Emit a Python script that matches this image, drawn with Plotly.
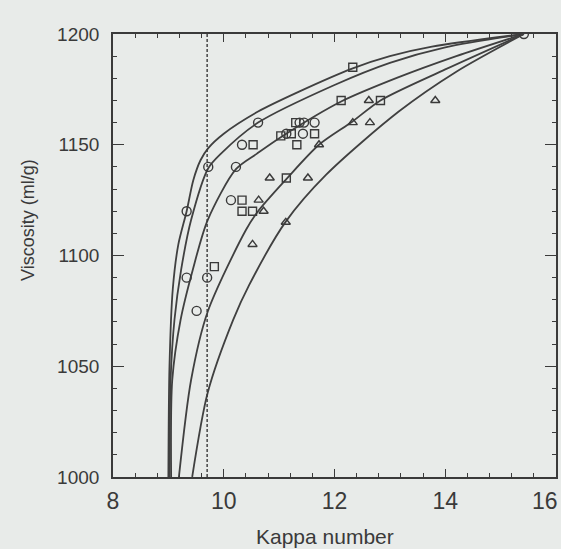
import plotly.graph_objects as go

# ---- data ----
# Model curves (kappa, viscosity), five curves converging at (15.42, 1200)
curve_a_k = [9.00, 9.02, 9.08, 9.18, 9.33, 9.45, 9.58, 9.72, 10.00, 10.62, 11.36, 12.33, 13.00, 13.76, 15.42]
curve_a_v = [1000, 1050, 1085, 1105, 1120, 1134, 1143, 1148.5, 1155, 1165, 1174, 1184.5, 1190, 1194.3, 1200]

curve_b_k = [9.02, 9.04, 9.11, 9.23, 9.41, 9.72, 9.95, 10.62, 12.00, 13.00, 14.00, 15.42]
curve_b_v = [1000, 1044, 1071, 1093.5, 1116, 1139.4, 1146, 1160, 1177, 1187, 1194, 1200]

curve_c_k = [9.05, 9.07, 9.22, 9.44, 9.71, 10.22, 10.60, 11.03, 12.12, 13.16, 14.20, 15.42]
curve_c_v = [1000, 1043.8, 1070.9, 1093.5, 1116, 1139, 1146, 1153.4, 1169.5, 1180.5, 1190, 1200]

curve_d_k = [9.19, 9.41, 9.71, 10.40, 10.62, 11.13, 11.72, 12.32, 12.83, 14.00, 15.42]
curve_d_v = [1000, 1043.8, 1074.6, 1111.5, 1120, 1134.5, 1150, 1160.4, 1170, 1184, 1200]

curve_e_k = [9.43, 9.71, 10.17, 10.46, 11.12, 11.85, 13.16, 14.20, 15.42]
curve_e_v = [1000, 1038, 1070.9, 1086.7, 1115.3, 1136.5, 1165, 1183, 1200]

# Measured points
circle_k = [9.33, 9.72, 10.22, 10.13, 9.33, 9.70, 9.51, 10.33, 10.62, 11.13, 11.43, 11.37, 11.45, 11.64, 15.42]
circle_v = [1120, 1140, 1140, 1125, 1090, 1090, 1075, 1150, 1160, 1155, 1155, 1160, 1160, 1160, 1200]

square_k = [12.33, 12.12, 12.83, 11.03, 11.22, 11.64, 11.30, 11.32, 10.53, 10.33, 10.33, 10.52, 11.13, 9.83]
square_v = [1185, 1170, 1170, 1154, 1155, 1155, 1160, 1150, 1150, 1125, 1120, 1120, 1135, 1095]

triangle_k = [12.62, 13.82, 12.33, 12.64, 11.72, 10.83, 11.52, 10.63, 10.72, 11.12, 10.52]
triangle_v = [1170, 1170, 1160, 1160, 1150, 1135, 1135, 1125, 1120, 1115, 1105]

dashed_k = [9.7, 9.7]
dashed_v = [1000, 1200]

x_ticks = [8, 10, 12, 14, 16]
x_tick_text = ["8", "10", "12", "14", ""]   # "16" is placed as an annotation so it stays inside the page
x_last_label = "16"
y_ticks = [1000, 1050, 1100, 1150, 1200]

# ---- styling ----
BG = "#e8ebe9"
INK = "#3a3a3a"
LINE = "#404040"

fig = go.Figure()

for ks, vs in [(curve_a_k, curve_a_v), (curve_b_k, curve_b_v), (curve_c_k, curve_c_v),
               (curve_d_k, curve_d_v), (curve_e_k, curve_e_v)]:
    fig.add_trace(go.Scatter(x=ks, y=vs, mode="lines",
                             line=dict(color=LINE, width=1.8, shape="spline", smoothing=0.8),
                             hoverinfo="skip", showlegend=False))

fig.add_trace(go.Scatter(x=dashed_k, y=dashed_v, mode="lines",
                         line=dict(color=INK, width=1.4, dash="3px,2px"),
                         showlegend=False))

fig.add_trace(go.Scatter(x=circle_k, y=circle_v, mode="markers",
                         marker=dict(symbol="circle-open", size=9, color=INK, line=dict(width=1.4, color=INK)),
                         showlegend=False))
fig.add_trace(go.Scatter(x=square_k, y=square_v, mode="markers",
                         marker=dict(symbol="square-open", size=8, color=INK, line=dict(width=1.4, color=INK)),
                         showlegend=False))
fig.add_trace(go.Scatter(x=triangle_k, y=triangle_v, mode="markers",
                         marker=dict(symbol="triangle-up-open", size=8, color=INK, line=dict(width=1.4, color=INK)),
                         showlegend=False))

fig.update_layout(
    width=561, height=549,
    margin=dict(l=113, r=5, t=34, b=72),
    paper_bgcolor=BG, plot_bgcolor=BG,
    font=dict(family="Liberation Sans, Arial, sans-serif", color=INK),
    showlegend=False,
    xaxis=dict(
        range=[8, 16], tickvals=x_ticks, ticktext=x_tick_text,
        ticks="inside", ticklen=8, tickwidth=1.4, tickcolor=INK,
        showline=True, linecolor=INK, linewidth=1.6, mirror="ticks",
        showgrid=False, zeroline=False, automargin=False,
        tickfont=dict(size=23, color=INK), ticklabelstandoff=3,
        ticklabeloverflow="allow",
        minor=dict(dtick=0.4, tick0=8, ticks="inside", ticklen=4, tickwidth=1.2, tickcolor=INK, showgrid=False),
    ),
    yaxis=dict(
        range=[1000, 1200], tickvals=y_ticks, ticktext=[str(t) for t in y_ticks],
        ticks="inside", ticklen=11, tickwidth=1.4, tickcolor=INK,
        showline=True, linecolor=INK, linewidth=1.6, mirror="ticks",
        showgrid=False, zeroline=False, automargin=False,
        tickfont=dict(size=19, color=INK), ticklabelstandoff=8,
        minor=dict(dtick=10, tick0=1000, ticks="inside", ticklen=4, tickwidth=1.2, tickcolor=INK, showgrid=False),
    ),
    annotations=[
        dict(text=x_last_label, xref="paper", yref="paper", x=(560 - 113) / 443, y=(477 - 501) / 443,
             xanchor="right", yanchor="middle", showarrow=False, font=dict(size=23, color=INK)),
        dict(text="Kappa number", xref="paper", yref="paper", x=(325 - 113) / 443, y=(477 - 536) / 443,
             xanchor="center", yanchor="middle", showarrow=False, font=dict(size=21, color=INK)),
        dict(text="Viscosity (ml/g)", xref="paper", yref="paper", x=(28 - 113) / 443, y=(477 - 220) / 443,
             xanchor="center", yanchor="middle", textangle=-90, showarrow=False, font=dict(size=18, color=INK)),
    ],
)

fig.write_html(
    "out.html",
    config={"displayModeBar": False},
    post_script="document.body.style.margin='0';document.body.style.overflow='hidden';"
                "document.body.style.background='" + BG + "';",
)
